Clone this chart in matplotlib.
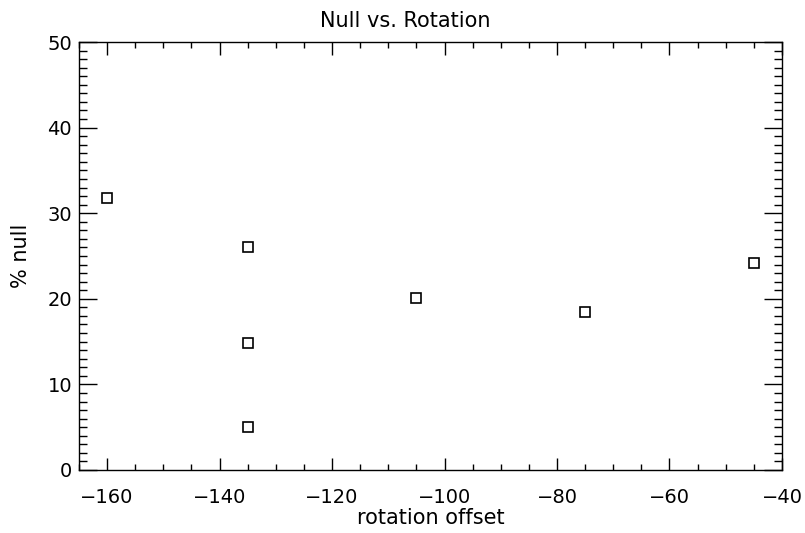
import matplotlib
matplotlib.use('Agg')
import matplotlib.pyplot as plt
from matplotlib.ticker import MultipleLocator

# data
rotation = [-160, -135, -135, -135, -105, -75, -45]
null_pct = [31.8, 26.0, 14.8, 5.0, 20.1, 18.4, 24.2]

plt.rcParams['font.family'] = ['DejaVu Sans']

fig = plt.figure(figsize=(8.05, 5.33), dpi=100)
ax = fig.add_axes([0.0981, 0.1182, 0.8733, 0.803])

ax.plot(rotation, null_pct, linestyle='none', marker='s', markersize=7.5,
        markerfacecolor='none', markeredgecolor='black', markeredgewidth=1.2)

ax.set_xlim(-165, -40)
ax.set_ylim(0, 50)
ax.xaxis.set_major_locator(MultipleLocator(20))
ax.xaxis.set_minor_locator(MultipleLocator(5))
ax.yaxis.set_major_locator(MultipleLocator(10))
ax.yaxis.set_minor_locator(MultipleLocator(1))

ax.tick_params(which='both', direction='in', top=True, right=True,
               width=1.0, colors='black', labelsize=14)
ax.tick_params(axis='x', which='both', pad=13)
ax.tick_params(axis='y', which='both', pad=5)
ax.tick_params(which='major', length=9)
ax.tick_params(which='minor', length=4.5)
ax.tick_params(axis='y', which='major', length=13)
ax.tick_params(axis='y', which='minor', length=6)
for s in ax.spines.values():
    s.set_linewidth(1.0)

# IDL centres the title on the window rather than the plot box
fig.text(405 / 805, 1 - 27 / 533, 'Null vs. Rotation', fontsize=15,
         ha='center', va='baseline')
ax.set_xlabel('rotation offset', fontsize=15, labelpad=1)
ax.set_ylabel('% null', fontsize=15, labelpad=12)

fig.savefig('out.png', dpi=100)
